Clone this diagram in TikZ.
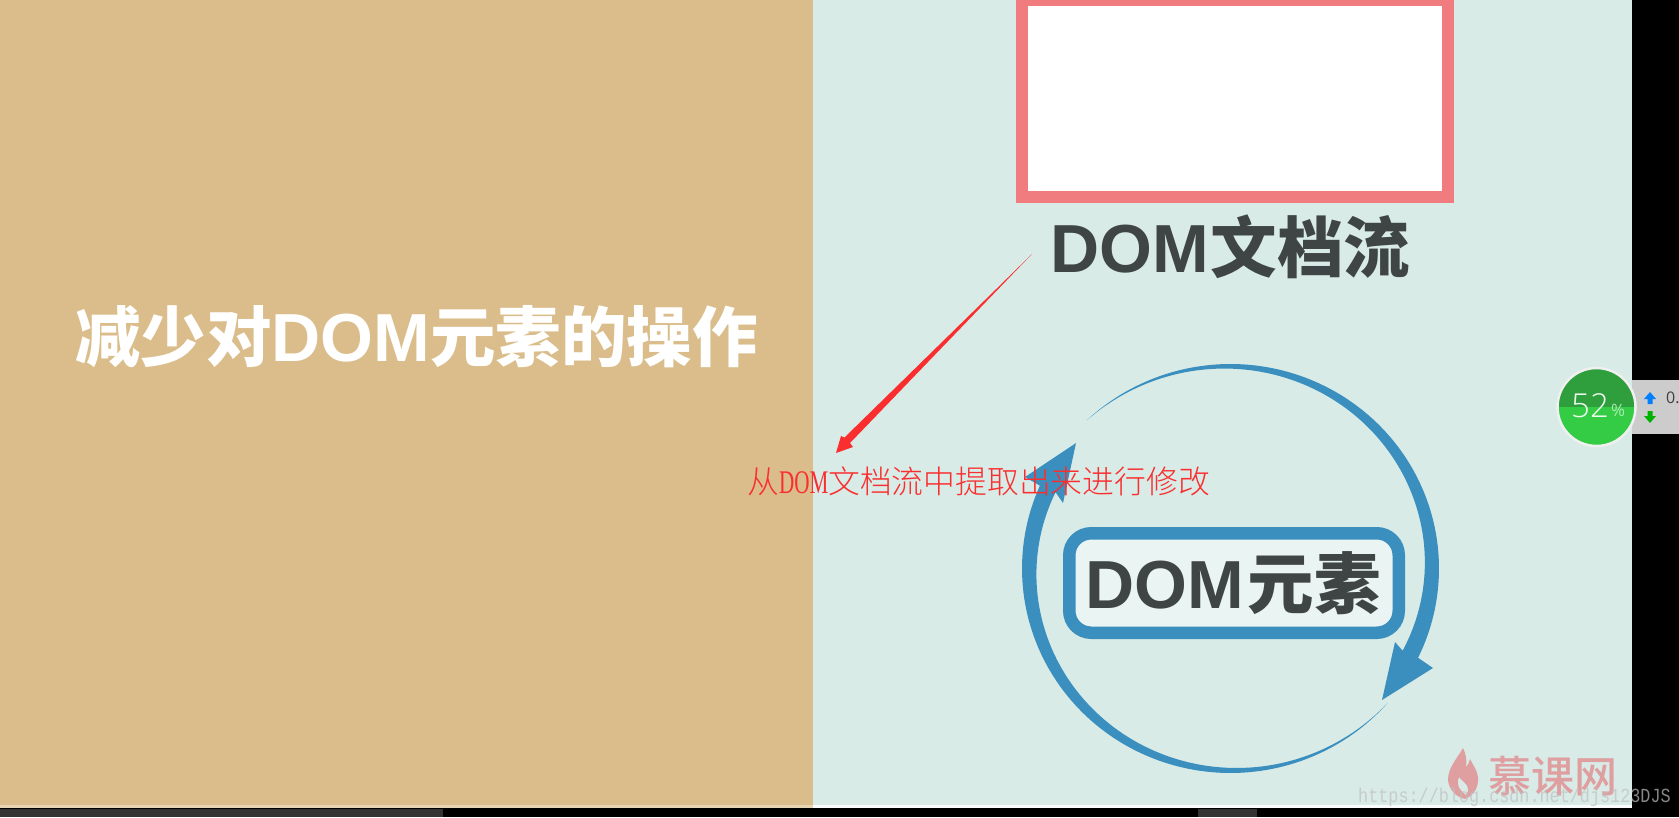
\documentclass[tikz,border=0pt]{standalone}
\usepackage{fontspec}
\newfontfamily\cjk{Noto Sans CJK SC}
\newfontfamily\cjklight{Noto Sans CJK SC Light}
\newfontfamily\cjkmed{Noto Sans CJK SC Medium}
\newfontfamily\latb{Liberation Sans}
\newfontfamily\narrowlat[FakeStretch=0.64]{Liberation Serif}
\newfontfamily\wm[FakeStretch=0.84]{Liberation Mono}
\newfontfamily\thin{Open Sans Light}
\newfontfamily\reg{Open Sans}
\definecolor{tan}{HTML}{DABD8A}
\definecolor{panel}{HTML}{D8EBE7}
\definecolor{pinkb}{HTML}{F07C80}
\definecolor{inkd}{HTML}{3F4545}
\definecolor{blueb}{HTML}{3A8FBF}
\definecolor{redt}{HTML}{FA2E2E}
\definecolor{logo}{HTML}{DF9FA1}
\definecolor{gdark}{HTML}{2F9F3E}
\definecolor{glight}{HTML}{33CC44}
\newcommand{\domword}{{\latb\bfseries\fontsize{68}{68}\selectfont DOM}}
\tikzset{
  bigtitle/.style={inner sep=0,text=inkd,anchor=base west,font=\cjk\bfseries\fontsize{66.5}{68}\selectfont},
  redlabel/.style={inner sep=0,text=redt,font=\cjklight\fontsize{31.8}{32}\selectfont},
}
\begin{document}
\begin{tikzpicture}[x=1pt,y=-1pt]
\useasboundingbox (0,0) rectangle (1679,817);
% backgrounds
\fill[black] (0,0) rectangle (1679,817);
\fill[tan] (0,0) rectangle (813,808);
\fill[panel] (813,0) rectangle (1632,808);
\fill[tan!65!white] (0,805) rectangle (813,808);
\fill[white!85!panel] (813,805) rectangle (1632,808);
\fill[black!80] (0,809) rectangle (443,817);
\fill[black!80] (1198,809) rectangle (1257,817);
% top box
\node[draw=pinkb,line width=12.5pt,fill=white,minimum width=426pt,minimum height=197pt,inner sep=0,outer sep=0] (flowbox) at (1235,98.5) {};
\node[bigtitle] (flow) at (1050,272) {\domword\kern2pt 文档流};
% left title
\node[inner sep=0,text=white,anchor=base west,font=\cjk\bfseries\fontsize{65.5}{68}\selectfont] (title) at (75,361) {减少对\domword 元素的操作};
% cycle arrows
\def\cx{1230.5}\def\cy{568.5}
\fill[blueb]
  plot[domain=0:1,samples=60,smooth] ({\cx+208.5*cos(133.5-159.5*\x)},{\cy-204.5*sin(133.5-159.5*\x)})
  -- (1433,668) -- (1382,700) -- (1395,642)
  -- plot[domain=1:0,samples=60,smooth] ({\cx+(208.5-17*\x)*cos(133.5-159.5*\x)},{\cy-(204.5-17*\x)*sin(133.5-159.5*\x)})
  -- cycle;
\fill[blueb]
  plot[domain=0:1,samples=60,smooth] ({\cx+208.5*cos(-41-163*\x)},{\cy-204.5*sin(-41-163*\x)})
  -- (1025,477) -- (1076,443) -- (1063,503)
  -- plot[domain=1:0,samples=60,smooth] ({\cx+(208.5-17*\x)*cos(-41-163*\x)},{\cy-(204.5-17*\x)*sin(-41-163*\x)})
  -- cycle;
% element box
\node[draw=blueb,line width=12.5pt,fill=white!45!panel,rounded corners=22pt,minimum width=329.5pt,minimum height=99.5pt,inner sep=0,outer sep=0] (elbox) at (1234,583) {};
\node[bigtitle] (el) at (1085,608) {\domword\kern4pt 元素};
% red annotation
\node[redlabel,anchor=west] (note) at (747,481) {从{\narrowlat\fontsize{33}{33}\selectfont DOM}文档流中提取出来进行修改};
\coordinate (from) at (1032,254);
\coordinate (tip) at (836,453);
\fill[redt] (from) -- (850,443) -- (853,447) -- (tip) -- (841,436) -- (844.5,437.5) -- cycle;
% logo
\fill[logo,even odd rule] (1463,748) .. controls (1456,760) and (1448,768) .. (1448,780) .. controls (1449,790) and (1456,797) .. (1465,799) .. controls (1473,796) and (1479,788) .. (1478,777) .. controls (1477,770) and (1473,765) .. (1470,759) .. controls (1469,763) and (1468,765) .. (1466,767) .. controls (1467,760) and (1466,754) .. (1463,748) -- cycle
  (1459,777) .. controls (1456,783) and (1458,789) .. (1466,795) .. controls (1470,790) and (1468,786) .. (1464,782) .. controls (1462,780) and (1460,779) .. (1459,777) -- cycle;
\node[inner sep=0,text=logo,font=\cjkmed\fontsize{43}{43}\selectfont,anchor=west] (brand) at (1488,776) {慕课网};
% watermark
\node[inner sep=0,text=black!25,opacity=.7,font=\wm\fontsize{20}{20}\selectfont,anchor=west] (mark) at (1358,797) {https://blog.csdn.net/djs123DJS};
% widget
\fill[black!20] (1632,380) rectangle (1679,434);
\fill[gdark] (1596.5,407) ++(-39,0) arc[start angle=-180,end angle=0,radius=39] -- cycle;
\fill[glight] (1596.5,407) ++(39,0) arc[start angle=0,end angle=180,radius=39] -- cycle;
\node[circle,draw=black!6,line width=2.5pt,minimum size=78pt,inner sep=0,outer sep=0] (gauge) at (1596.5,407) {};
\node[inner sep=0,text=white!92!glight,font=\thin\fontsize{33}{33}\selectfont,anchor=center] (pct) at (1590,406) {52};
\node[inner sep=0,text=white!60!glight,font=\reg\fontsize{17}{17}\selectfont,anchor=center] (pctsign) at (1618,410) {\%};
\fill[blue!50!cyan] (1650,392) -- (1656,399) -- (1652.5,399) -- (1652.5,404) -- (1647.5,404) -- (1647.5,399) -- (1644,399) -- cycle;
\fill[green!70!black] (1650,423) -- (1656,416) -- (1652.5,416) -- (1652.5,411) -- (1647.5,411) -- (1647.5,416) -- (1644,416) -- cycle;
\node[inner sep=0,text=black!75,font=\reg\fontsize{16}{16}\selectfont,anchor=west] (val) at (1666,398) {0.};
\end{tikzpicture}
\end{document}
